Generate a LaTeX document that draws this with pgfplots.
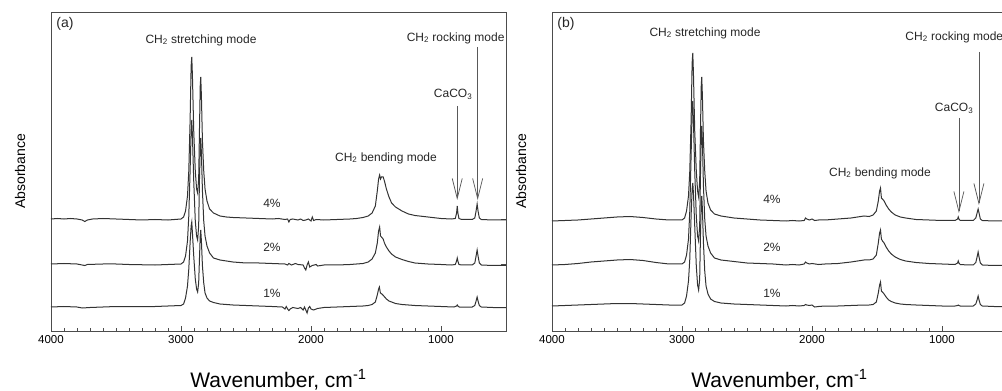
\documentclass[border=0pt]{standalone}
\usepackage{fontspec}
\setmainfont{Liberation Sans}
\usepackage{pgfplots}
\pgfplotsset{compat=1.18}
\usetikzlibrary{arrows.meta}

\pgfplotstableread{
x y
4000 112
3950 112.5
3900 112
3850 112.5
3800 112
3760 111
3740 109.5
3720 111
3680 112
3600 112.5
3500 112
3400 111.5
3300 111
3200 111.5
3100 111
3050 111.5
3000 112
2980 114
2965 120
2950 135
2940 160
2930 210
2922 265
2917 274
2912 255
2902 200
2890 160
2880 142
2872 138
2864 152
2858 200
2852 245
2848 254
2843 235
2835 190
2825 160
2815 142
2800 130
2780 122
2750 118
2700 115
2650 114
2600 113.5
2500 113
2400 112.5
2300 112
2250 112.5
2200 111.5
2180 112
2170 109
2160 111.5
2140 112
2100 111
2080 112
2060 110.5
2040 111
2020 112
2000 110
1990 114
1980 110.5
1960 111.5
1900 111
1800 111.5
1700 112
1650 112.5
1600 113.5
1560 115
1530 118
1505 125
1490 140
1480 152
1472 156
1465 152
1458 154
1445 154
1435 150
1420 142
1400 134
1380 128
1350 124
1300 120
1250 117
1200 115.5
1100 114
1000 112.5
920 112
890 112.5
880 118
875 125
870 118
862 112.5
840 111.5
800 111.5
760 111.5
740 113
730 120
722 127
715 120
705 113
690 111.5
600 111
500 111
}\aFour

\pgfplotstableread{
x y
4000 67
3900 67.5
3800 67
3760 66
3740 65.5
3720 66.5
3600 67
3500 67
3400 66.5
3200 66
3100 66.5
3000 67
2980 69
2965 75
2950 90
2940 115
2930 160
2922 200
2917 211
2912 195
2902 150
2890 110
2880 95
2872 91
2864 105
2858 150
2852 185
2848 193
2843 178
2835 140
2825 110
2815 95
2800 85
2780 78
2750 73
2700 71
2600 69
2500 68
2400 68
2300 67.5
2200 67
2180 66
2170 67.5
2150 66
2120 67.5
2100 66.5
2060 66
2050 63
2040 61
2030 66
2020 69
2010 64
1990 65.5
1960 66.5
1950 65
1900 66
1800 66
1700 66.5
1600 67.5
1560 69
1530 72
1505 78
1490 88
1480 100
1472 104
1465 95
1458 94
1445 92
1435 88
1420 84
1400 80
1380 77
1350 74
1300 71.5
1250 69.5
1200 68
1100 67
1000 66.5
920 66
890 66.5
880 70
875 73
870 70
862 66.5
840 66
800 66
760 66
740 68
730 75
722 81
715 75
705 68
690 66
600 65.5
500 65.5
}\aTwo

\pgfplotstableread{
x y
4000 24
3900 24.5
3800 24
3760 23
3700 23.5
3600 24
3500 24.5
3400 24.5
3200 24.5
3100 25
3000 25.5
2980 27
2965 33
2950 45
2940 62
2930 88
2922 105
2917 109
2912 98
2902 75
2890 52
2880 42
2872 39
2864 48
2858 72
2852 95
2848 101
2843 90
2835 65
2825 48
2815 38
2800 33
2780 30
2750 28.5
2700 27
2600 26
2500 25.5
2400 25
2300 24.5
2220 24
2200 22
2190 24.5
2180 22
2170 20.5
2160 22
2140 23.5
2100 22.5
2080 23.5
2060 21
2050 24
2040 21
2030 18
2020 23
2010 24.5
2000 22
1980 21
1950 22.5
1900 23.5
1800 24
1700 24.5
1600 25
1560 25.5
1530 26.5
1505 29
1490 36
1480 42
1474 44
1466 38
1455 37
1440 35
1420 32
1400 30
1380 29
1350 27.5
1300 26.5
1200 25.5
1100 25
1000 24.5
900 24
880 25
875 26
870 25
860 24
800 24
760 24
740 25.5
730 30
722 34
715 30
705 25.5
690 24
600 23.5
500 23.5
}\aOne

\pgfplotstableread{
x y
4000 110
3900 110.5
3800 111
3700 112
3600 113
3500 114
3400 114.5
3300 113.5
3200 112
3100 111
3000 111
2980 113
2965 120
2950 135
2940 160
2930 210
2922 268
2917 278
2912 258
2902 200
2890 160
2880 140
2872 134
2864 150
2858 200
2852 245
2848 254
2843 235
2835 190
2825 160
2815 140
2800 128
2780 121
2750 117
2700 115
2600 113
2500 112
2400 111
2300 110.5
2200 110
2150 110.5
2100 110
2060 110.5
2050 113
2040 112
2020 111
2000 112
1980 110.5
1950 111
1900 111
1800 112
1700 113
1650 114
1600 115
1560 114.5
1530 116
1505 120
1490 130
1480 140
1473 143
1466 133
1458 132
1445 130
1430 126
1410 122
1390 119
1360 116
1320 114
1280 113
1200 111.5
1100 111
1000 110.5
900 110.5
880 112
875 114
870 112
860 110.5
800 110.5
760 110.5
740 113
730 118
722 122
715 118
705 112
690 110.5
600 110
500 110
}\bFour

\pgfplotstableread{
x y
4000 66
3900 66.5
3800 67.5
3700 69
3600 70
3500 71
3400 71.5
3300 70.5
3200 68.5
3100 67
3000 67
2980 69
2965 76
2950 92
2940 120
2930 175
2922 222
2917 230
2912 210
2902 160
2890 115
2880 95
2872 90
2864 105
2858 155
2852 195
2848 205
2843 190
2835 145
2825 112
2815 95
2800 85
2780 78
2750 73
2700 71
2600 69.5
2500 68
2400 67.5
2300 67
2200 66
2150 66.5
2100 66
2060 67
2050 69
2040 68
2020 67
2000 67.5
1950 66.5
1900 67
1800 67.5
1700 69
1650 70
1600 71
1560 71
1530 72
1505 76
1490 88
1480 98
1473 101
1466 92
1458 90
1445 88
1430 84
1410 80
1390 77
1360 74
1320 71.5
1280 70
1200 68.5
1100 67.5
1000 67
900 66.5
880 68
875 70
870 68
860 66.5
800 66
760 66
740 68.5
730 74
722 79
715 74
705 68
690 66
600 65.5
500 65.5
}\bTwo

\pgfplotstableread{
x y
4000 25
3900 25.5
3800 26
3700 26.5
3600 27
3500 27.5
3400 27.5
3300 27
3200 26.5
3100 26
3000 26
2980 28
2965 35
2950 50
2940 72
2930 115
2922 142
2917 148
2912 138
2902 105
2890 65
2880 46
2872 41
2864 52
2858 95
2852 126
2848 135
2843 122
2835 88
2825 60
2815 45
2800 37
2780 32
2750 29.5
2700 28
2600 27
2500 26.5
2400 26
2300 25.5
2200 25
2150 25.5
2100 25
2060 25.5
2050 26.5
2040 26
2020 25.5
2000 26
1980 24
1950 24.5
1900 25
1800 25
1700 25.5
1600 26
1560 26
1530 26.5
1505 29
1490 38
1480 46
1473 49
1466 40
1458 39
1445 37
1430 34
1410 31
1390 29.5
1360 28
1320 27
1280 26.5
1200 26
1100 25.5
1000 25
900 25
880 25.5
875 26
870 25.5
860 25
800 25
760 25
740 27
730 31
722 35
715 31
705 26.5
690 25
600 24.5
500 24.5
}\bOne

\tikzset{
  ann/.style={font=\fontsize{12}{14}\selectfont, text=black!85},
  arr/.style={black!65, line width=0.75pt, -{Straight Barb[length=20pt,width=10pt]}},
  curve/.style={draw=black!80, line width=1pt, mark=none},
}

\pgfplotsset{spec/.style={
  scale only axis, width=455pt, height=319pt,
  x dir=reverse, xmin=500, xmax=4000, ymin=0, ymax=319,
  clip=false,
  xtick={1000,2000,3000,4000}, minor x tick num=9,
  xtick pos=bottom, ytick pos=right, ytick={24,67,112}, yticklabels={},
  tick align=inside, major tick length=5pt, minor tick length=3.5pt,
  /pgf/number format/assume math mode=true,
  /pgf/number format/1000 sep={},
  xticklabel style={font=\fontsize{11.5}{12}\selectfont, yshift=-1pt},
  axis line style={black!70, line width=0.9pt},
  every tick/.style={black!70, line width=0.7pt},
  xlabel={Wavenumber, cm\textsuperscript{-1}},
  xlabel style={at={(axis description cs:0.5,-0.1536)}, anchor=center, font=\fontsize{21}{24}\selectfont},
  ylabel={Absorbance},
  ylabel style={at={(axis description cs:-0.068,0.5)}, anchor=center, font=\fontsize{14}{16}\selectfont},
}}

\begin{document}
\begin{tikzpicture}
\path[use as bounding box] (0,0) rectangle (1002pt,391pt);
\clip (0,0) rectangle (1002pt,391pt);

\begin{axis}[spec, at={(51pt,60pt)}, anchor=south west]
\addplot[curve] table[x=x,y=y] {\aFour};
\addplot[curve] table[x=x,y=y] {\aTwo};
\addplot[curve] table[x=x,y=y] {\aOne};
\node[ann, font=\fontsize{14}{16}\selectfont] at (axis cs:3892,307) {(a)};
\node[ann] at (axis cs:2846,291) {CH\textsubscript{2} stretching mode};
\node[ann, anchor=west] at (axis cs:1290,293) {CH\textsubscript{2} rocking mode};
\node[ann] at (axis cs:907,237) {CaCO\textsubscript{3}};
\node[ann] at (axis cs:1423,173) {CH\textsubscript{2} bending mode};
\node[ann] at (axis cs:2300,128) {4\%};
\node[ann] at (axis cs:2300,84) {2\%};
\node[ann] at (axis cs:2300,38) {1\%};
\draw[arr] (axis cs:875,225) -- (axis cs:875,131);
\draw[arr] (axis cs:718,284) -- (axis cs:718,131);
\end{axis}

\begin{axis}[spec, at={(552pt,60pt)}, anchor=south west]
\addplot[curve] table[x=x,y=y] {\bFour};
\addplot[curve] table[x=x,y=y] {\bTwo};
\addplot[curve] table[x=x,y=y] {\bOne};
\node[ann, font=\fontsize{14}{16}\selectfont] at (axis cs:3892,307) {(b)};
\node[ann] at (axis cs:2823,298) {CH\textsubscript{2} stretching mode};
\node[ann, anchor=west] at (axis cs:1308,294) {CH\textsubscript{2} rocking mode};
\node[ann] at (axis cs:907,223) {CaCO\textsubscript{3}};
\node[ann] at (axis cs:1477,158) {CH\textsubscript{2} bending mode};
\node[ann] at (axis cs:2308,132) {4\%};
\node[ann] at (axis cs:2308,84) {2\%};
\node[ann] at (axis cs:2308,38) {1\%};
\draw[arr] (axis cs:870,213) -- (axis cs:870,118);
\draw[arr] (axis cs:716,279) -- (axis cs:716,126);
\end{axis}
\end{tikzpicture}
\end{document}
